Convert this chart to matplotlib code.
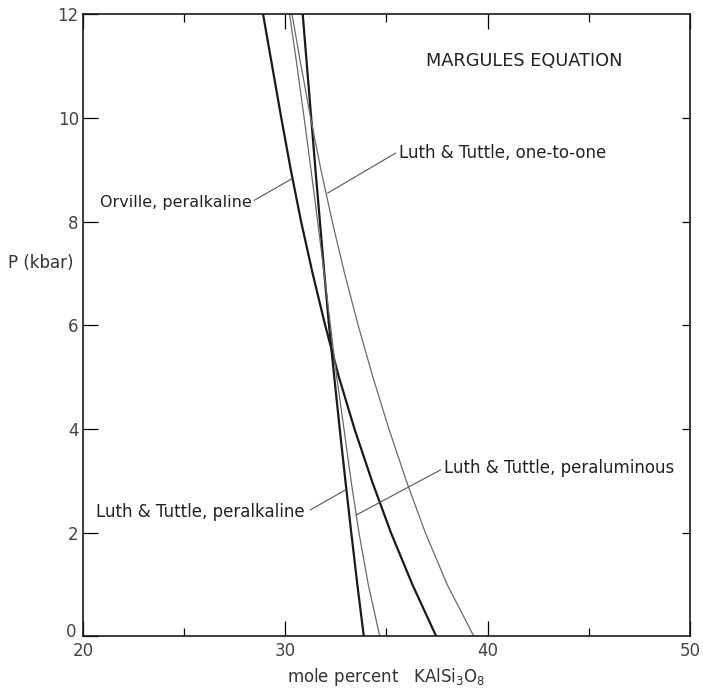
import matplotlib
matplotlib.use('Agg')
import matplotlib.pyplot as plt
import matplotlib.transforms as mtransforms
import numpy as np

# pressure levels (kbar) and solvus compositions (mole % KAlSi3O8)
pressure = [12, 11, 10, 9, 8, 7, 6, 5, 4, 3, 2, 1, 0]
orville_peralkaline = [28.90, 29.35, 29.80, 30.27, 30.78, 31.35, 31.97, 32.65, 33.42, 34.28, 35.22, 36.28, 37.46]
lt_peralkaline = [30.86, 31.07, 31.28, 31.49, 31.71, 31.93, 32.16, 32.42, 32.69, 32.97, 33.26, 33.56, 33.88]
lt_peraluminous = [30.21, 30.58, 30.93, 31.27, 31.60, 31.92, 32.23, 32.54, 32.90, 33.25, 33.64, 34.10, 34.67]
lt_one_to_one = [30.33, 30.78, 31.25, 31.76, 32.32, 32.93, 33.60, 34.33, 35.12, 35.98, 36.92, 38.00, 39.32]

xticks = [20, 30, 40, 50]
xminor = [25, 35, 45]
yticks = [0, 2, 4, 6, 8, 10, 12]

ink = '#1a1a1a'
thin = '#6a6a6a'

fig = plt.figure(figsize=(7.03, 6.91), dpi=100)
ax = fig.add_axes([0.118, 0.079, 0.8635, 0.9006])

ax.plot(orville_peralkaline, pressure, color=ink, lw=1.6, solid_joinstyle='round')
ax.plot(lt_peralkaline, pressure, color=ink, lw=1.6, solid_joinstyle='round')
ax.plot(lt_peraluminous, pressure, color=thin, lw=0.9, solid_joinstyle='round')
ax.plot(lt_one_to_one, pressure, color=thin, lw=0.9, solid_joinstyle='round')

ax.set_xlim(20, 50)
ax.set_ylim(0, 12)

for s in ax.spines.values():
    s.set_color(ink)
    s.set_linewidth(1.2)

ax.set_xticks(xticks)
ax.set_xticks(xminor, minor=True)
ax.set_yticks(yticks)
ax.tick_params(axis='x', which='major', direction='in', length=11, width=0.9,
               top=True, bottom=True, labelsize=12, labelcolor='#444', pad=4)
ax.tick_params(axis='x', which='minor', direction='in', length=6, width=0.9,
               top=True, bottom=True)
ax.tick_params(axis='y', which='major', direction='in', length=11, width=0.9,
               left=True, right=False, labelsize=12, labelcolor='#444', pad=3)

# no tick marks in the corners, only the labels
for t in ax.xaxis.get_major_ticks():
    if t.get_loc() in (20, 50):
        t.tick1line.set_visible(False)
        t.tick2line.set_visible(False)
for t in ax.yaxis.get_major_ticks():
    if t.get_loc() in (0, 12):
        t.tick1line.set_visible(False)

# lift the "0" a little so it clears the "20"
fig.canvas.draw()
zero = ax.yaxis.get_major_ticks()[0].label1
zero.set_transform(zero.get_transform() +
                   mtransforms.ScaledTranslation(-0.02, 0.06, fig.dpi_scale_trans))

# shorter ticks on the right edge
ax_r = ax.twinx()
ax_r.set_ylim(0, 12)
ax_r.set_yticks([2, 4, 6, 8, 10])
ax_r.tick_params(axis='y', direction='in', length=6, width=0.9, labelright=False)
for s in ax_r.spines.values():
    s.set_visible(False)

ax.set_xlabel('mole percent   KAlSi$_3$O$_8$', fontsize=12, color='#333', labelpad=4)
ax.text(-0.016, 0.60, 'P (kbar)', transform=ax.transAxes, ha='right', va='center',
        fontsize=12, color='#333')

ax.text(36.95, 11.09, 'MARGULES EQUATION', ha='left', va='center', fontsize=12.8, color='#222')

lab = dict(fontsize=12, color='#222', va='center')
ax.text(35.6, 9.32, 'Luth & Tuttle, one-to-one', ha='left', **lab)
ax.text(28.35, 8.36, 'Orville, peralkaline', ha='right', fontsize=11.5, color='#222', va='center')
ax.text(30.95, 2.40, 'Luth & Tuttle, peralkaline', ha='right', **lab)
ax.text(37.85, 3.25, 'Luth & Tuttle, peraluminous', ha='left', **lab)

# leader lines from labels to curves
lead = dict(color='#555', lw=0.8)
ax.plot([35.45, 32.1], [9.32, 8.55], **lead)
ax.plot([28.47, 30.3], [8.41, 8.82], **lead)
ax.plot([31.24, 32.95], [2.44, 2.82], **lead)
ax.plot([37.67, 33.5], [3.21, 2.34], **lead)

fig.savefig('out.png', dpi=100)
